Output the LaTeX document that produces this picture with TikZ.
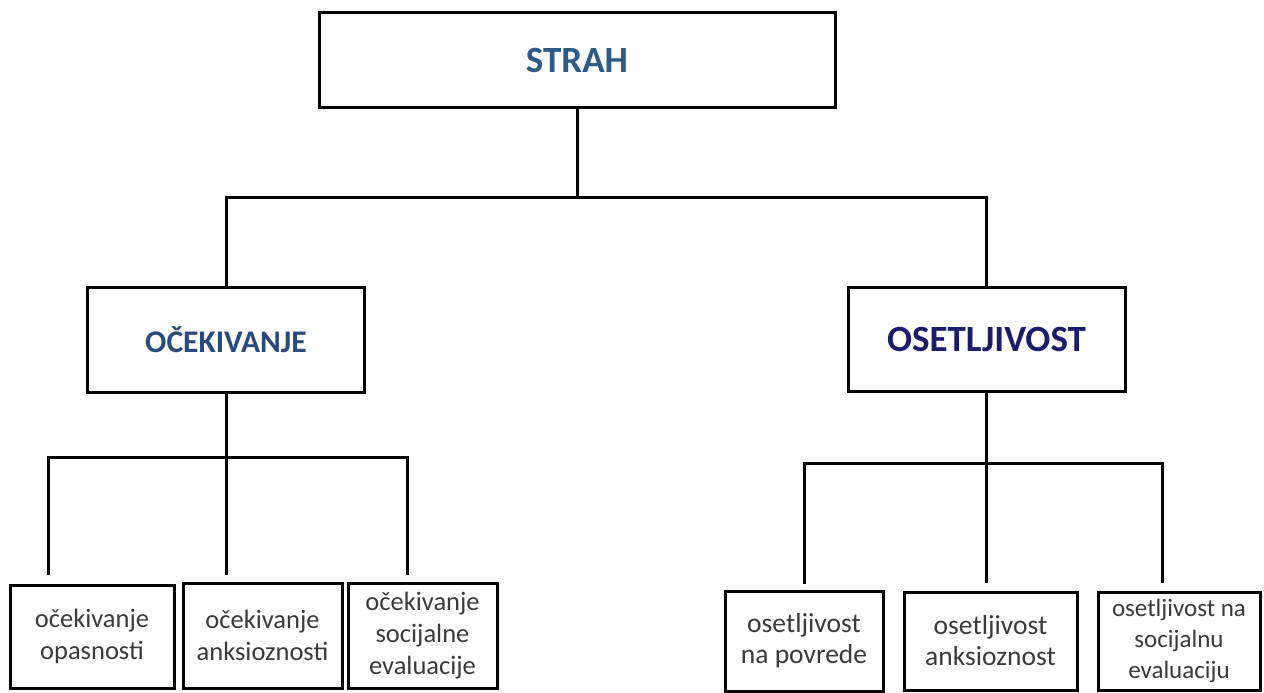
\documentclass[tikz,border=0pt]{standalone}
\usepackage{fontspec}
\setmainfont{Carlito}
\definecolor{strahc}{HTML}{2E5A87}
\definecolor{ocekc}{HTML}{2B4A7C}
\definecolor{osetc}{HTML}{1C1C6C}
\definecolor{leafc}{HTML}{3A3A3A}
\begin{document}
\begin{tikzpicture}[x=1pt,y=-1pt,
  box/.style={draw=black, line width=3pt, inner sep=0pt, outer sep=0pt, align=center, fill=white},
  headbox/.style={box, font=\bfseries\fontsize{37}{44}\selectfont},
  leftleaf/.style={box, text=leafc, font=\fontsize{26.5}{32}\selectfont},
  rightleaf/.style={box, text=leafc, font=\fontsize{27.5}{31}\selectfont},
  conn/.style={draw=black, line width=3pt, line join=miter}]
\useasboundingbox (0,0) rectangle (1264,693);
\fill[white] (0,0) rectangle (1264,693);

% nodes
\node[headbox, text=strahc, minimum width=516pt, minimum height=94pt] (strah) at (577,60) {STRAH};
\node[headbox, text=ocekc, font=\bfseries\fontsize{31.5}{38}\selectfont, minimum width=277pt, minimum height=105pt] (oc) at (226,339.5) {OČEKIVANJE};
\node[headbox, text=osetc, minimum width=277pt, minimum height=104pt] (os) at (986.5,339) {OSETLJIVOST};

\node[leftleaf, minimum width=164pt, minimum height=103pt] (b1) at (92,636.5) {očekivanje\\opasnosti};
\node[leftleaf, minimum width=159pt, minimum height=105pt] (b2) at (262.5,635.5) {očekivanje\\anksioznosti};
\node[leftleaf, minimum width=149pt, minimum height=105pt] (b3) at (422.5,635.5) {očekivanje\\socijalne\\evaluacije};

\node[rightleaf, minimum width=158pt, minimum height=100pt] (r1) at (804,641) {osetljivost\\na povrede};
\node[rightleaf, minimum width=173pt, minimum height=98pt] (r2) at (990.5,641) {osetljivost\\anksioznost};
\node[rightleaf, font=\fontsize{25}{31}\selectfont, minimum width=162pt, minimum height=98pt] (r3) at (1179,641) {osetljivost na\\socijalnu\\evaluaciju};

% junctions
\coordinate (tj) at (strah.south |- 0,197);
\coordinate (lj) at (oc.south |- 0,457);
\coordinate (rj) at (os.south |- 0,463);

% connectors
\draw[conn] (strah.south) -- (tj);
\draw[conn] (oc.north) |- (tj) -| (os.north);

\draw[conn, shorten >=8pt] (oc.south) -- (oc.south |- b2.north);
\draw[conn, shorten <=10pt, shorten >=8pt] ([xshift=-44pt]b1.north) |- (lj) -| ([xshift=-15.5pt]b3.north);

\draw[conn, shorten >=9pt] (os.south) -- (os.south |- r2.north);
\draw[conn, shorten <=7pt, shorten >=9pt] (r1.north) |- (rj) -| ([xshift=-17pt]r3.north);
\end{tikzpicture}
\end{document}
